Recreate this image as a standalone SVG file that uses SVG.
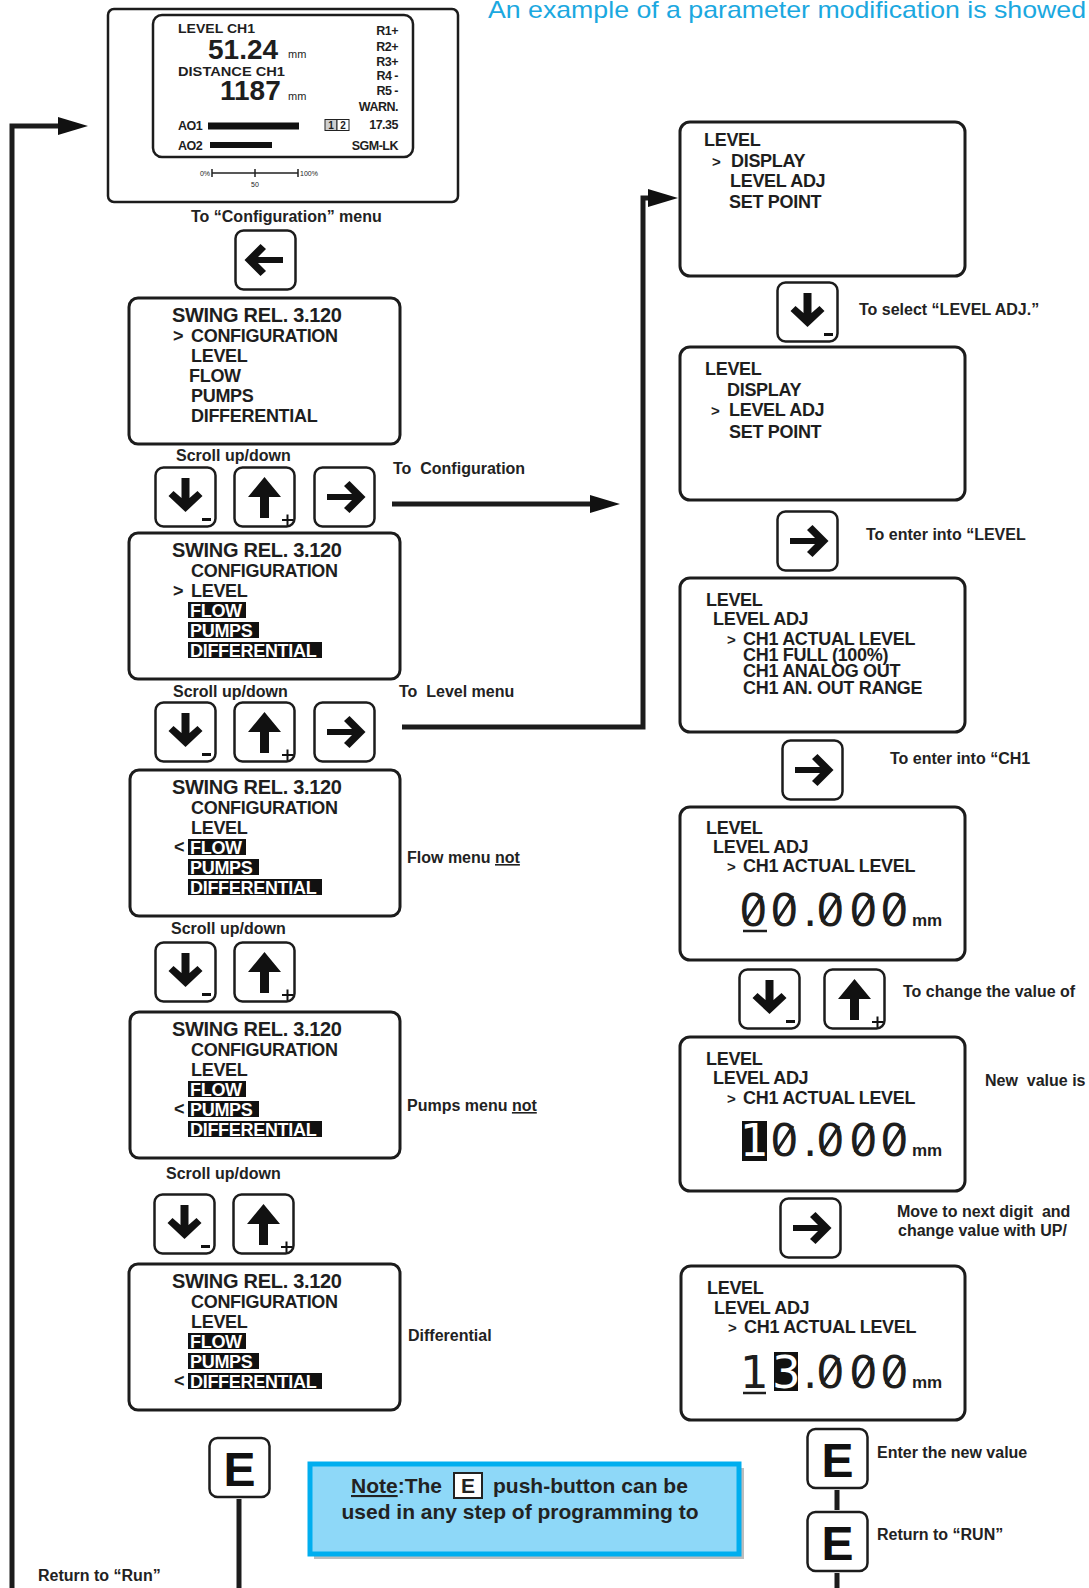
<svg xmlns="http://www.w3.org/2000/svg" width="1089" height="1588" viewBox="0 0 1089 1588">
<style>
.bg{fill:#ffffff}
.box{fill:#fff;stroke:#1c1c1c;stroke-width:3}
.lbl{font-family:"Liberation Sans",Arial,sans-serif;font-weight:bold;font-size:16px;fill:#222}
.m{font-family:"Liberation Sans",Arial,sans-serif;font-weight:bold;font-size:18px;fill:#1e1e1e;letter-spacing:-0.3px}
.mt{font-family:"Liberation Sans",Arial,sans-serif;font-weight:bold;font-size:20px;fill:#1e1e1e;letter-spacing:-0.3px}
.inv{font-family:"Liberation Sans",Arial,sans-serif;font-weight:bold;font-size:18px;fill:#fff;letter-spacing:-0.3px}
.hl{fill:#111}
.ptr{font-family:"Liberation Sans",Arial,sans-serif;font-weight:bold;font-size:15px;fill:#1e1e1e}
.d{font-family:"Liberation Sans",Arial,sans-serif;font-weight:bold;fill:#1e1e1e}
.dig{font-family:"DejaVu Sans","Liberation Sans",sans-serif;font-size:45px;fill:#1e1e1e}
.digw{font-family:"DejaVu Sans","Liberation Sans",sans-serif;font-size:45px;fill:#fff}
.sl{stroke:#1e1e1e;stroke-width:3}
.mm{font-family:"Liberation Sans",Arial,sans-serif;font-weight:bold;font-size:17px;fill:#1e1e1e}
.conn{fill:none;stroke:#1c1c1c;stroke-width:5}
</style>
<defs>
<marker id="ah" markerUnits="userSpaceOnUse" markerWidth="31" markerHeight="20" refX="0" refY="9" orient="auto">
<path d="M0 0 L30 9 L0 18 Z" fill="#111"/>
</marker>
<symbol id="bDown" viewBox="0 0 63 62"><rect x="1.5" y="1.5" width="60" height="59" rx="8" fill="#fff" stroke="#1c1c1c" stroke-width="2.5"/><path d="M27.5 12 h8 v20 l8 -7 l5 5 l-17 16 l-17 -16 l5 -5 l8 7 z" fill="#111"/><rect x="48" y="52" width="9" height="3" fill="#111"/></symbol>
<symbol id="bUp" viewBox="0 0 63 62"><rect x="1.5" y="1.5" width="60" height="59" rx="8" fill="#fff" stroke="#1c1c1c" stroke-width="2.5"/><path d="M31.5 11 L48 31 L36 31 L36 52 L27 52 L27 31 L15 31 Z" fill="#111"/><path d="M49 54 h11 M54.5 48.5 v11" stroke="#111" stroke-width="2"/></symbol>
<symbol id="bRight" viewBox="0 0 63 62"><rect x="1.5" y="1.5" width="60" height="59" rx="8" fill="#fff" stroke="#1c1c1c" stroke-width="2.5"/><path d="M14 28 h25 l-8 -8 l5.5 -5 l16 16 l-16 16 l-5.5 -5 l8 -8 h-25 z" fill="#111"/></symbol>
<symbol id="bLeft" viewBox="0 0 63 62"><rect x="1.5" y="1.5" width="60" height="59" rx="8" fill="#fff" stroke="#1c1c1c" stroke-width="2.5"/><path d="M49 28 h-25 l8 -8 l-5.5 -5 l-16 16 l16 16 l5.5 -5 l-8 -8 h25 z" fill="#111"/></symbol>
<symbol id="bE" viewBox="0 0 63 62"><rect x="1.5" y="1.5" width="60" height="59" rx="8" fill="#fff" stroke="#1c1c1c" stroke-width="2.5"/><text x="31.5" y="49" text-anchor="middle" font-family="Liberation Sans, Arial, sans-serif" font-weight="bold" font-size="48" fill="#111">E</text></symbol>
</defs>
<rect class="bg" x="0" y="0" width="1089" height="1588"/>

<text x="488" y="18" font-family="Liberation Sans, Arial, sans-serif" font-size="24" fill="#1BA8E0" textLength="598" lengthAdjust="spacingAndGlyphs">An example of a parameter modification is showed</text>

<g id="connectors">
<path class="conn" d="M12 1588 V126 H58" marker-end="url(#ah)"/>
<path class="conn" d="M392 504 H590" marker-end="url(#ah)"/>
<path class="conn" d="M402 727 H643 V198 H648" marker-end="url(#ah)"/>
<path class="conn" d="M239 1499 V1588"/>
<path class="conn" d="M837 1490 V1510 M837 1573 V1588"/>
</g>

<g id="run-display">
<rect x="108" y="9" width="350" height="193" rx="6" fill="#fff" stroke="#1c1c1c" stroke-width="2.5"/>
<rect x="153" y="15" width="260" height="142" rx="9" fill="#fff" stroke="#1c1c1c" stroke-width="2.5"/>
<text class="d" x="178" y="33" font-size="12.5" textLength="77" lengthAdjust="spacingAndGlyphs">LEVEL CH1</text>
<text class="d" x="208" y="59" font-size="28">51.24</text>
<text x="288" y="58" font-family="Liberation Sans, Arial, sans-serif" font-size="11" fill="#1e1e1e">mm</text>
<text class="d" x="178" y="76" font-size="12.5" textLength="107" lengthAdjust="spacingAndGlyphs">DISTANCE CH1</text>
<text class="d" x="220" y="100" font-size="28">1187</text>
<text x="288" y="100" font-family="Liberation Sans, Arial, sans-serif" font-size="11" fill="#1e1e1e">mm</text>
<g class="d" font-size="12.5" text-anchor="end" letter-spacing="-0.5">
<text x="398" y="35">R1+</text>
<text x="398" y="51">R2+</text>
<text x="398" y="66">R3+</text>
<text x="398" y="80">R4 -</text>
<text x="398" y="95">R5 -</text>
<text x="398" y="111">WARN.</text>
<text x="398" y="129">17.35</text>
<text x="398" y="150">SGM-LK</text>
</g>
<text class="d" x="178" y="130" font-size="12.5" letter-spacing="-0.5">AO1</text>
<rect x="208" y="122.5" width="91" height="7" fill="#111"/>
<text class="d" x="178" y="150" font-size="12.5" letter-spacing="-0.5">AO2</text>
<rect x="210" y="142" width="62" height="6" fill="#111"/>
<rect x="325" y="119.5" width="12" height="11" fill="#cfcfcf" stroke="#222" stroke-width="1"/>
<rect x="337" y="119.5" width="12" height="11" fill="#fff" stroke="#222" stroke-width="1"/>
<text class="d" x="331" y="129" font-size="10" text-anchor="middle">1</text>
<text class="d" x="343" y="129" font-size="10" text-anchor="middle">2</text>
<path d="M212 173 H298 M212 169 V177 M255 169 V177 M298 169 V177" stroke="#222" stroke-width="1.5" fill="none"/>
<text x="210" y="176" font-family="Liberation Sans, Arial, sans-serif" font-size="7" fill="#222" text-anchor="end">0%</text>
<text x="300" y="176" font-family="Liberation Sans, Arial, sans-serif" font-size="7" fill="#222">100%</text>
<text x="255" y="187" font-family="Liberation Sans, Arial, sans-serif" font-size="7" fill="#222" text-anchor="middle">50</text>
</g>
<text class="lbl" x="191" y="222" font-size="15">To “Configuration” menu</text>
<g id="btn-left-top"><use href="#bLeft" x="234" y="229" width="63" height="62"/></g>

<g id="menu1">
<rect class="box" x="129" y="298" width="271" height="146" rx="9"/>
<text class="mt" x="172" y="322">SWING REL. 3.120</text>
<text class="m" x="173" y="342">&gt;</text>
<text class="m" x="191" y="342">CONFIGURATION</text>
<text class="m" x="191" y="362">LEVEL</text>
<text class="m" x="189" y="382">FLOW</text>
<text class="m" x="191" y="402">PUMPS</text>
<text class="m" x="191" y="422">DIFFERENTIAL</text>
</g>
<text class="lbl" x="176" y="461">Scroll up/down</text>
<g id="btn-r1-down"><use href="#bDown" x="154" y="466" width="63" height="62"/></g>
<g id="btn-r1-up"><use href="#bUp" x="233" y="466" width="63" height="62"/></g>
<g id="btn-r1-right"><use href="#bRight" x="313" y="466" width="63" height="62"/></g>
<text class="lbl" x="393" y="474" xml:space="preserve">To  Configuration</text>

<g id="menu2">
<rect class="box" x="129" y="533" width="271" height="146" rx="9"/>
<text class="mt" x="172" y="557">SWING REL. 3.120</text>
<text class="m" x="191" y="577">CONFIGURATION</text>
<text class="m" x="173" y="597">&gt;</text>
<text class="m" x="191" y="597">LEVEL</text>
<rect class="hl" x="188" y="602" width="58" height="16"/>
<text class="inv" x="190" y="617">FLOW</text>
<rect class="hl" x="188" y="622" width="71" height="16"/>
<text class="inv" x="190" y="637">PUMPS</text>
<rect class="hl" x="188" y="642" width="134" height="16"/>
<text class="inv" x="190" y="657">DIFFERENTIAL</text>
</g>
<text class="lbl" x="173" y="697">Scroll up/down</text>
<text class="lbl" x="399" y="697" xml:space="preserve">To  Level menu</text>
<g id="btn-r2-down"><use href="#bDown" x="154" y="701" width="63" height="62"/></g>
<g id="btn-r2-up"><use href="#bUp" x="233" y="701" width="63" height="62"/></g>
<g id="btn-r2-right"><use href="#bRight" x="313" y="701" width="63" height="62"/></g>

<g id="menu3">
<rect class="box" x="130" y="770" width="270" height="146" rx="9"/>
<text class="mt" x="172" y="794">SWING REL. 3.120</text>
<text class="m" x="191" y="814">CONFIGURATION</text>
<text class="m" x="191" y="834">LEVEL</text>
<text class="m" x="174" y="853">&lt;</text>
<rect class="hl" x="188" y="839" width="58" height="16"/>
<text class="inv" x="190" y="854">FLOW</text>
<rect class="hl" x="188" y="859" width="71" height="16"/>
<text class="inv" x="190" y="874">PUMPS</text>
<rect class="hl" x="188" y="879" width="134" height="16"/>
<text class="inv" x="190" y="894">DIFFERENTIAL</text>
</g>
<text class="lbl" x="407" y="863">Flow menu <tspan text-decoration="underline">not</tspan></text>
<text class="lbl" x="171" y="934">Scroll up/down</text>
<g id="btn-r3-down"><use href="#bDown" x="154" y="941" width="63" height="62"/></g>
<g id="btn-r3-up"><use href="#bUp" x="233" y="941" width="63" height="62"/></g>

<g id="menu4">
<rect class="box" x="130" y="1012" width="270" height="146" rx="9"/>
<text class="mt" x="172" y="1036">SWING REL. 3.120</text>
<text class="m" x="191" y="1056">CONFIGURATION</text>
<text class="m" x="191" y="1076">LEVEL</text>
<rect class="hl" x="188" y="1081" width="58" height="16"/>
<text class="inv" x="190" y="1096">FLOW</text>
<text class="m" x="174" y="1115">&lt;</text>
<rect class="hl" x="188" y="1101" width="71" height="16"/>
<text class="inv" x="190" y="1116">PUMPS</text>
<rect class="hl" x="188" y="1121" width="134" height="16"/>
<text class="inv" x="190" y="1136">DIFFERENTIAL</text>
</g>
<text class="lbl" x="407" y="1111">Pumps menu <tspan text-decoration="underline">not</tspan></text>
<text class="lbl" x="166" y="1179">Scroll up/down</text>
<g id="btn-r4-down"><use href="#bDown" x="153" y="1193" width="63" height="62"/></g>
<g id="btn-r4-up"><use href="#bUp" x="232" y="1193" width="63" height="62"/></g>

<g id="menu5">
<rect class="box" x="129" y="1264" width="271" height="146" rx="9"/>
<text class="mt" x="172" y="1288">SWING REL. 3.120</text>
<text class="m" x="191" y="1308">CONFIGURATION</text>
<text class="m" x="191" y="1328">LEVEL</text>
<rect class="hl" x="188" y="1333" width="58" height="16"/>
<text class="inv" x="190" y="1348">FLOW</text>
<rect class="hl" x="188" y="1353" width="71" height="16"/>
<text class="inv" x="190" y="1368">PUMPS</text>
<text class="m" x="174" y="1387">&lt;</text>
<rect class="hl" x="188" y="1373" width="134" height="16"/>
<text class="inv" x="190" y="1388">DIFFERENTIAL</text>
</g>
<text class="lbl" x="408" y="1341">Differential</text>

<g id="btn-e-left"><use href="#bE" x="208" y="1436" width="63" height="63"/></g>
<text class="lbl" x="38" y="1581">Return to “Run”</text>

<g id="note">
<rect x="314" y="1468" width="430" height="91" fill="#bdbdbd"/>
<rect x="310" y="1464" width="429" height="90" fill="#8ED8F8" stroke="#00AEEF" stroke-width="5"/>
<text x="351" y="1493" font-family="Liberation Sans, Arial, sans-serif" font-weight="bold" font-size="21" fill="#222"><tspan text-decoration="underline">Note</tspan>:The</text>
<rect x="454" y="1473" width="28" height="25" fill="#fff" stroke="#222" stroke-width="2"/>
<text x="468" y="1493" text-anchor="middle" font-family="Liberation Sans, Arial, sans-serif" font-weight="bold" font-size="21" fill="#222">E</text>
<text x="493" y="1493" font-family="Liberation Sans, Arial, sans-serif" font-weight="bold" font-size="21" fill="#222">push-button can be</text>
<text x="520" y="1519" text-anchor="middle" font-family="Liberation Sans, Arial, sans-serif" font-weight="bold" font-size="21" fill="#222">used in any step of programming to</text>
</g>

<g id="screen-r1">
<rect class="box" x="680" y="122" width="285" height="154" rx="10"/>
<text class="m" x="704" y="146">LEVEL</text>
<text class="ptr" x="712" y="167">&gt;</text>
<text class="m" x="731" y="167">DISPLAY</text>
<text class="m" x="730" y="187">LEVEL ADJ</text>
<text class="m" x="729" y="208">SET POINT</text>
</g>
<g id="btn-r-down1"><use href="#bDown" x="776" y="281" width="63" height="62"/></g>
<text class="lbl" x="859" y="315">To select “LEVEL ADJ.”</text>

<g id="screen-r2">
<rect class="box" x="680" y="347" width="285" height="153" rx="10"/>
<text class="m" x="705" y="375">LEVEL</text>
<text class="m" x="727" y="396">DISPLAY</text>
<text class="ptr" x="711" y="416">&gt;</text>
<text class="m" x="729" y="416">LEVEL ADJ</text>
<text class="m" x="729" y="438">SET POINT</text>
</g>
<g id="btn-r-right1"><use href="#bRight" x="776" y="510" width="63" height="62"/></g>
<text class="lbl" x="866" y="540">To enter into “LEVEL</text>

<g id="screen-r3">
<rect class="box" x="680" y="578" width="285" height="154" rx="10"/>
<text class="m" x="706" y="606">LEVEL</text>
<text class="m" x="713" y="625">LEVEL ADJ</text>
<text class="ptr" x="727" y="645">&gt;</text>
<text class="m" x="743" y="645">CH1 ACTUAL LEVEL</text>
<text class="m" x="743" y="661">CH1 FULL (100%)</text>
<text class="m" x="743" y="677">CH1 ANALOG OUT</text>
<text class="m" x="743" y="694">CH1 AN. OUT RANGE</text>
</g>
<g id="btn-r-right2"><use href="#bRight" x="781" y="739" width="63" height="62"/></g>
<text class="lbl" x="890" y="764">To enter into “CH1</text>

<g id="screen-r4">
<rect class="box" x="680" y="807" width="285" height="153" rx="10"/>
<text class="m" x="706" y="834">LEVEL</text>
<text class="m" x="713" y="853">LEVEL ADJ</text>
<text class="ptr" x="727" y="872">&gt;</text>
<text class="m" x="743" y="872">CH1 ACTUAL LEVEL</text>
<text class="dig" x="739 770 803 816 849 880" y="926">00.000</text>
<path class="sl" d="M745 922 L762 896 M776 922 L793 896 M822 922 L839 896 M855 922 L872 896 M886 922 L903 896"/>
<line x1="743" y1="931" x2="767" y2="931" stroke="#1e1e1e" stroke-width="2.5"/>
<text class="mm" x="912" y="926">mm</text>
</g>
<g id="btn-r-down2"><use href="#bDown" x="738" y="968" width="63" height="62"/></g>
<g id="btn-r-up2"><use href="#bUp" x="823" y="968" width="63" height="62"/></g>
<text class="lbl" x="903" y="997">To change the value of</text>

<g id="screen-r5">
<rect class="box" x="680" y="1037" width="285" height="154" rx="10"/>
<text class="m" x="706" y="1065">LEVEL</text>
<text class="m" x="713" y="1084">LEVEL ADJ</text>
<text class="ptr" x="727" y="1104">&gt;</text>
<text class="m" x="743" y="1104">CH1 ACTUAL LEVEL</text>
<rect x="742" y="1121" width="25" height="40" fill="#111"/>
<text class="digw" x="740" y="1156">1</text>
<text class="dig" x="770 803 816 849 880" y="1156">0.000</text>
<path class="sl" d="M776 1152 L793 1126 M822 1152 L839 1126 M855 1152 L872 1126 M886 1152 L903 1126"/>
<text class="mm" x="912" y="1156">mm</text>
</g>
<text class="lbl" x="985" y="1086" xml:space="preserve">New  value is</text>
<g id="btn-r-right3"><use href="#bRight" x="779" y="1197" width="63" height="62"/></g>
<text class="lbl" x="897" y="1217" xml:space="preserve">Move to next digit  and</text>
<text class="lbl" x="898" y="1236">change value with UP/</text>

<g id="screen-r6">
<rect class="box" x="681" y="1266" width="284" height="154" rx="10"/>
<text class="m" x="707" y="1294">LEVEL</text>
<text class="m" x="714" y="1314">LEVEL ADJ</text>
<text class="ptr" x="728" y="1333">&gt;</text>
<text class="m" x="744" y="1333">CH1 ACTUAL LEVEL</text>
<text class="dig" x="740" y="1388">1</text>
<line x1="743" y1="1393" x2="766" y2="1393" stroke="#1e1e1e" stroke-width="2.5"/>
<rect x="774" y="1352" width="24" height="39" fill="#111"/>
<text class="digw" x="772" y="1388">3</text>
<text class="dig" x="803 816 849 880" y="1388">.000</text>
<path class="sl" d="M822 1384 L839 1358 M855 1384 L872 1358 M886 1384 L903 1358"/>
<text class="mm" x="912" y="1388">mm</text>
</g>

<g id="btn-e-enter"><use href="#bE" x="806" y="1427" width="63" height="63"/></g>
<text class="lbl" x="877" y="1458">Enter the new value</text>
<g id="btn-e-run"><use href="#bE" x="806" y="1510" width="63" height="63"/></g>
<text class="lbl" x="877" y="1540">Return to “RUN”</text>
</svg>
